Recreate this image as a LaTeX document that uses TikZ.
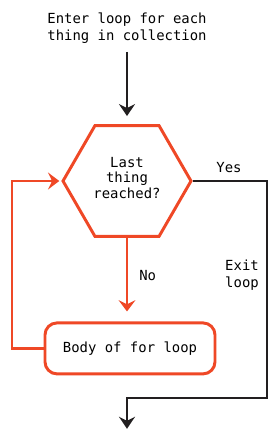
\documentclass[tikz,border=0pt]{standalone}
\usepackage{fontspec}
\newfontfamily\flowfont{DejaVu Sans Mono}
\usetikzlibrary{arrows.meta, shapes.geometric}

\definecolor{loopred}{RGB}{239,72,38}
\definecolor{loopblack}{RGB}{34,31,32}

\tikzset{
  flowtext/.style={font=\flowfont\fontsize{9.9}{11.8}\selectfont, align=center, inner sep=0pt},
  hexbox/.style={regular polygon, regular polygon sides=6, minimum size=3.2cm, inner sep=0pt,
                 draw=loopred, line width=2.1pt},
  bodybox/.style={rectangle, rounded corners=0.3cm, minimum width=4.25cm, minimum height=1.275cm,
                  draw=loopred, line width=2.1pt},
  redline/.style={draw=loopred, line width=2.1pt, -{Stealth[length=0.28cm, width=0.42cm, inset=0.1cm]}},
  blackline/.style={draw=loopblack, line width=2.1pt, -{Stealth[length=0.3cm, width=0.4cm, inset=0.1cm]}}
}

\begin{document}
\begin{tikzpicture}[scale=1]

\useasboundingbox (0,0) rectangle (6.975,-11);

\node [flowtext] (enter) at (3.175,-0.7) {Enter loop for each\\thing in collection};
\coordinate (enterend) at (3.175,-1.3);

\node [hexbox] (last) at (3.175,-4.525) {};
\node [flowtext, font=\flowfont\fontsize{9.9}{11.3}\selectfont] (lasttext) at (3.175,-4.45) {Last\\thing\\reached?};

\node [bodybox] (body) at (3.25,-8.71) {};
\node [flowtext] (bodytext) at (3.25,-8.71) {Body of for loop};

%%%%%%%%%%%%%%% labels
\node [flowtext] (yes) at (5.725,-4.2) {Yes};
\node [flowtext, anchor=west] (no) at (3.475,-6.9) {No};
\node [flowtext] (exit) at (6.05,-6.88) {Exit\\loop};

%%%%%%%%%%%%%%% corners of the connectors
\coordinate (yescorner) at (6.675,-4.525);
\coordinate (exitcorner) at (6.675,-9.95);
\coordinate (exitturn) at (3.175,-9.95);
\coordinate (exitend) at (3.175,-10.72);
\coordinate (backbottom) at (0.3,-8.71);
\coordinate (backtop) at (0.3,-4.525);

\draw [blackline, shorten >=0.2cm] (enterend) -- (last.north);
\draw [redline, shorten >=0.25cm] (last.south) -- (last.south |- body.north);
\draw [redline, shorten >=0.05cm] (body.west) -- (backbottom) -- (backtop) -- (last.west);
\draw [blackline] (last.east) -- (yescorner) -- (exitcorner) -- (exitturn) -- (exitend);

\end{tikzpicture}
\end{document}
